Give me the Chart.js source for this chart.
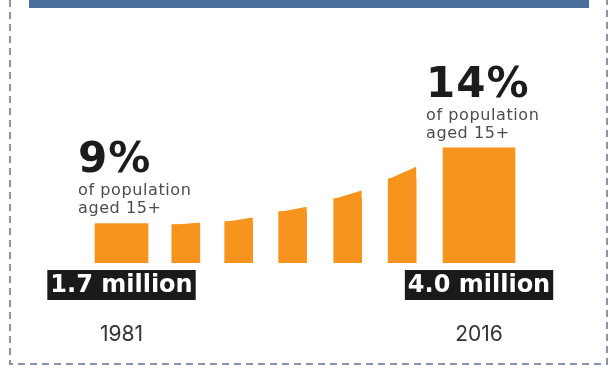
<!DOCTYPE html>
<html>
<head>
<meta charset="utf-8">
<script src="https://cdn.jsdelivr.net/npm/chart.js@4"></script>
<style>
  html, body { margin: 0; padding: 0; background: #fff; }
  canvas { display: block; }
</style>
</head>
<body>
<canvas id="popChart" width="610" height="371"></canvas>
<script>
// census years printed under the end bars
const years = ['1981', '', '', '', '', '', '2016'];
// population aged 15+ in millions, at the left and right edge of each bar
const popStart = [1.7, 1.67, 1.76, 2.06, 2.46, 3.06, 4.0];
const popEnd   = [1.7, 1.73, 1.88, 2.21, 2.70, 3.42, 4.0];
// share of population aged 15+ (%), only given for the end bars
const sharePct = [9, null, null, null, null, null, 14];

// layout: where each bar sits on the x scale
const slots = [0, 1.18, 2.15, 3.14, 4.15, 5.15, 6.56];
const orange = '#f7941d';
const bigFont = '"DejaVu Sans"';

function barData(idx) {
    return idx.map(i => ({ x: slots[i], y: popStart[i] }));
}

// sloped tops, percent notes and million tags
const decorations = {
    id: 'decorations',
    beforeDraw(chart) {
        const ctx = chart.ctx;
        ctx.save();
        // banner strip at the top
        ctx.fillStyle = '#4b6f9c';
        ctx.fillRect(29, 0, 560, 8);
        // dashed frame
        ctx.strokeStyle = '#8796aa';
        ctx.lineWidth = 2;
        ctx.setLineDash([7, 5]);
        ctx.beginPath();
        ctx.moveTo(10, 0);
        ctx.lineTo(10, 364);
        ctx.lineTo(607, 364);
        ctx.lineTo(607, 0);
        ctx.stroke();
        ctx.restore();
    },
    afterDatasetsDraw(chart) {
        const ctx = chart.ctx;
        const yScale = chart.scales.y;
        const bottom = chart.chartArea.bottom;
        ctx.save();
        chart.data.datasets.forEach((ds, d) => {
            chart.getDatasetMeta(d).data.forEach((el, j) => {
                const i = ds.barIndex[j];
                const left = el.x - el.width / 2;
                const right = el.x + el.width / 2;
                const y0 = yScale.getPixelForValue(popStart[i]);
                const y1 = yScale.getPixelForValue(popEnd[i]);

                if (y1 < y0) {
                    ctx.fillStyle = orange;
                    ctx.beginPath();
                    ctx.moveTo(left, y0 + 0.5);
                    ctx.lineTo(right, y1);
                    ctx.lineTo(right, y0 + 0.5);
                    ctx.closePath();
                    ctx.fill();
                }

                if (sharePct[i] == null) return;

                // percent note above the bar
                const tx = left - 17;
                ctx.textAlign = 'left';
                ctx.textBaseline = 'alphabetic';
                ctx.fillStyle = '#1c1c1c';
                ctx.font = 'bold 42px ' + bigFont;
                ctx.letterSpacing = '1px';
                ctx.fillText(sharePct[i] + '%', tx, y1 - 51);
                ctx.fillStyle = '#4d4d4d';
                ctx.font = '16px ' + bigFont;
                ctx.letterSpacing = '0.6px';
                ctx.fillText('of population', tx, y1 - 28);
                ctx.fillText('aged 15+', tx, y1 - 10);
                ctx.letterSpacing = '0px';

                // black tag under the bar
                const tag = popStart[i].toFixed(1) + ' million';
                ctx.font = 'bold 24px ' + bigFont;
                const w = ctx.measureText(tag).width + 6;
                const top = bottom + 7;
                ctx.fillStyle = '#1a1a1a';
                ctx.fillRect(el.x - w / 2, top, w, 30);
                ctx.fillStyle = '#ffffff';
                ctx.textAlign = 'center';
                ctx.textBaseline = 'middle';
                ctx.fillText(tag, el.x, top + 16);
            });
        });
        ctx.restore();
    }
};

new Chart(document.getElementById('popChart'), {
    type: 'bar',
    data: {
        datasets: [
            { data: barData([0]), barIndex: [0], barThickness: 53 },
            { data: barData([1, 2, 3, 4, 5]), barIndex: [1, 2, 3, 4, 5], barThickness: 28 },
            { data: barData([6]), barIndex: [6], barThickness: 72 }
        ]
    },
    options: {
        responsive: false,
        animation: false,
        grouped: false,
        backgroundColor: orange,
        borderWidth: 0,
        layout: {
            padding: { top: 49, left: 67, right: 52.5, bottom: 24 }
        },
        plugins: {
            legend: { display: false },
            tooltip: { enabled: false }
        },
        scales: {
            x: {
                type: 'linear',
                offset: false,
                min: -1,
                max: 8,
                grid: { display: false, drawTicks: false },
                border: { display: false },
                afterBuildTicks(scale) {
                    scale.ticks = [slots[0], slots[6]].map(v => ({ value: v }));
                },
                afterFit(scale) {
                    scale.height = 84;
                },
                ticks: {
                    padding: 59,
                    autoSkip: false,
                    maxRotation: 0,
                    color: '#333333',
                    font: { family: 'Inter', size: 21 },
                    callback: (value) => years[slots.indexOf(value)]
                }
            },
            y: {
                display: false,
                min: 0.5,
                max: 7
            }
        }
    },
    plugins: [decorations]
});
</script>
</body>
</html>
